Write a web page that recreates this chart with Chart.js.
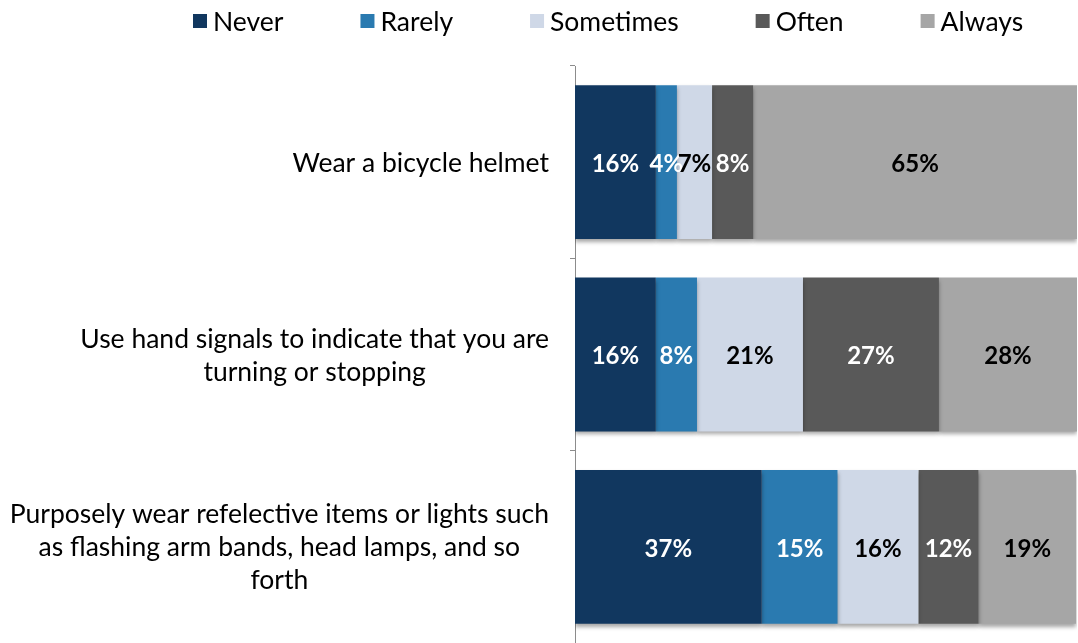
<!doctype html>
<html lang="en">
<head>
  <meta charset="utf-8">
  <title>Cycling habits</title>
  <script src="https://cdn.jsdelivr.net/npm/chart.js"></script>
  <style>
    html,body{margin:0;padding:0;background:#fff;}
    .chart-wrapper{position:relative;width:1078px;height:643px;}
  </style>
</head>
<body>
  <div class="chart-wrapper">
    <canvas id="chart"></canvas>
  </div>

  <script>
    /* ─── data ─── */
    const CATEGORIES = [
      ['Wear a bicycle helmet'],
      ['Use hand signals to indicate that you are', 'turning or stopping'],
      ['Purposely wear refelective items or lights such', 'as flashing arm bands, head lamps, and so', 'forth']
    ];
    const SERIES    = ['Never', 'Rarely', 'Sometimes', 'Often', 'Always'];
    const NEVER     = [16.1, 16.1, 37.2];
    const RARELY    = [4.2, 8.2, 15.1];
    const SOMETIMES = [7.0, 21.1, 16.1];
    const OFTEN     = [8.2, 27.1, 12.0];
    const ALWAYS    = [64.5, 27.5, 19.4];

    /* ─── styles ─── */
    const COLORS      = ['#11375f', '#2a7ab0', '#cfd8e7', '#595959', '#a6a6a6'];
    const LABEL_INK   = ['#fff', '#fff', '#000', '#fff', '#000'];
    const FONT        = 'Lato, "DejaVu Sans", sans-serif';
    const AXIS_GREY   = '#8c8c8c';

    // bold % labels centred in every segment
    const segLabelPlugin = {
      id: 'segLabel',
      afterDatasetsDraw(chart) {
        const {ctx} = chart;
        ctx.save();
        ctx.font = `bold 24px ${FONT}`;
        ctx.textAlign = 'center';
        ctx.textBaseline = 'middle';
        chart.data.datasets.forEach((ds, i) => {
          chart.getDatasetMeta(i).data.forEach((bar, j) => {
            ctx.fillStyle = LABEL_INK[i];
            ctx.fillText(Math.round(ds.data[j]) + '%', (bar.x + bar.base) / 2, bar.y + 2);
          });
        });
        ctx.restore();
      }
    };

    // soft shadow under the bars
    const shadowPlugin = {
      id: 'barShadow',
      beforeDatasetsDraw({ctx}) {
        ctx.save();
        ctx.shadowColor = 'rgba(0,0,0,0.35)';
        ctx.shadowBlur = 4;
        ctx.shadowOffsetY = 3;
      },
      afterDatasetsDraw({ctx}) { ctx.restore(); }
    };

    // category labels: block right-aligned to the axis, lines centred inside it
    const catLabelPlugin = {
      id: 'catLabel',
      afterDraw(chart) {
        const {ctx, scales: {y}} = chart;
        const lh = 33, right = 549;
        ctx.save();
        ctx.font = `26.5px ${FONT}`;
        ctx.fillStyle = '#000';
        ctx.textAlign = 'center';
        ctx.textBaseline = 'middle';
        CATEGORIES.forEach((lines, i) => {
          const w = Math.max(...lines.map(l => ctx.measureText(l).width));
          const cx = right - w / 2;
          const yc = y.getPixelForTick(i) + 1;
          lines.forEach((l, k) => {
            ctx.fillText(l, cx, yc + (k - (lines.length - 1) / 2) * lh);
          });
        });
        ctx.restore();
      }
    };

    // legend row across the top
    const legendPlugin = {
      id: 'topLegend',
      afterDraw(chart) {
        const {ctx} = chart;
        const box = 14, gapText = 6, gapItem = 77, yMid = 21;
        let x = 193;
        ctx.save();
        ctx.font = `26.5px ${FONT}`;
        ctx.textBaseline = 'middle';
        ctx.textAlign = 'left';
        chart.data.datasets.forEach(ds => {
          ctx.fillStyle = ds.backgroundColor;
          ctx.fillRect(x, yMid - box / 2, box, box);
          ctx.fillStyle = '#000';
          ctx.fillText(ds.label, x + box + gapText, yMid + 1);
          x += box + gapText + ctx.measureText(ds.label).width + gapItem;
        });
        ctx.restore();
      }
    };

    const values = [NEVER, RARELY, SOMETIMES, OFTEN, ALWAYS];

    new Chart(document.getElementById('chart'), {
      type: 'bar',
      data: {
        labels: CATEGORIES.map(c => c.join(' ')),
        datasets: SERIES.map((s, i) => ({
          label: s,
          data: values[i],
          backgroundColor: COLORS[i],
          borderWidth: 0,
          categoryPercentage: 0.8,
          barPercentage: 1
        }))
      },
      options: {
        indexAxis: 'y',
        responsive: true,
        maintainAspectRatio: false,
        animation: false,
        layout: {padding: {top: 66, right: 1, bottom: 0, left: 0}},
        plugins: {
          legend: {display: false},
          tooltip: {enabled: false}
        },
        scales: {
          x: {
            stacked: true, min: 0, max: 100, display: false
          },
          y: {
            stacked: true,
            grid: {offset: true, drawOnChartArea: false, tickLength: 5, color: AXIS_GREY},
            border: {color: AXIS_GREY},
            ticks: {display: false},
            afterFit: s => { s.width = 575; }
          }
        }
      },
      plugins: [shadowPlugin, segLabelPlugin, catLabelPlugin, legendPlugin]
    });
  </script>
</body>
</html>
